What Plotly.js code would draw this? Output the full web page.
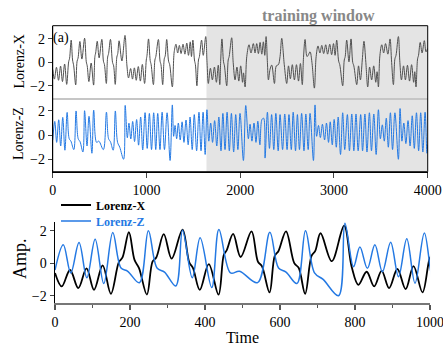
<!DOCTYPE html>
<html><head><meta charset="utf-8">
<script src="https://cdn.plot.ly/plotly-3.0.1.min.js"></script>
<style>html,body{margin:0;padding:0;background:#fff}#c{width:443px;height:350px}</style>
</head><body><div id="c"></div>
<script>
// Lorenz-X: local extrema / shape points (time, value)
const xTime = [0,18,40,62,84,104,127,149,170,180,197,212,224,245,260,270,290,311,340,358,368,386,410,436,450,458,475,495,524,541,552,572,586,596,616,638,650,667,684,694,708,738,771,791,809,831,851,871,891,913,935,956,980,998,1006,1022,1040,1050,1074,1090,1100,1127,1145,1155,1173,1190,1200,1216,1236,1248,1276,1296,1315,1333,1351,1369,1390,1410,1430,1448,1467,1480,1495,1512,1522,1538,1555,1565,1588,1606,1632,1646,1660,1682,1703,1725,1746,1766,1782,1792,1805,1822,1832,1856,1872,1882,1909,1925,1945,1965,1985,2005,2025,2035,2052,2070,2094,2115,2140,2158,2176,2194,2212,2230,2247,2262,2276,2290,2301,2318,2336,2365,2385,2407,2425,2443,2470,2496,2515,2535,2556,2578,2600,2622,2642,2662,2675,2692,2712,2725,2745,2765,2791,2810,2830,2850,2870,2890,2912,2932,2955,2975,2995,3012,3029,3050,3062,3093,3110,3120,3136,3160,3182,3200,3212,3243,3262,3282,3302,3320,3340,3360,3380,3402,3424,3446,3460,3474,3490,3510,3530,3550,3575,3598,3615,3634,3650,3662,3687,3703,3720,3742,3762,3784,3806,3828,3850,3862,3875,3892,3902,3920,3940,3964,3982,4000];
const xVal  = [-0.6,-1.43,-0.42,-1.53,-0.32,-1.64,-0.14,-1.88,0.05,0.35,1.9,0.2,-0.3,-1.93,0.1,0.35,1.78,0.28,2.06,0.05,-0.3,-1.64,-0.06,-1.94,0.5,0.8,1.8,0.38,1.96,0.1,-0.2,-1.8,0.45,0.75,1.96,0.0,-0.3,-1.88,0.45,0.75,1.84,0.12,2.3,-0.22,-1.33,-0.53,-1.43,-0.47,-1.53,-0.36,-1.6,-0.18,-1.8,0.2,0.6,2.0,0.15,-0.2,-1.9,0.2,0.5,1.95,0.1,-0.2,-1.9,0.3,0.55,1.95,0.1,-0.2,-2.1,0.9,1.55,0.8,1.45,0.75,1.55,0.7,1.65,0.6,1.75,0.5,1.9,0.2,-0.2,-2.0,0.2,0.5,1.9,0.6,2.2,0.0,-1.8,-0.5,-1.5,-0.4,-1.7,-0.25,-1.9,0.2,2.0,0.05,-0.3,-2.0,0.2,0.5,2.1,0.0,-1.5,-0.4,-1.6,-0.3,-1.7,-0.9,-2.1,0.5,1.5,0.8,1.6,0.8,1.6,0.75,1.7,0.7,1.75,0.6,2.2,0.0,-1.5,-0.6,-0.23,-1.8,-0.3,-0.2,0.5,2.05,-0.2,-1.8,-0.3,-1.4,-0.2,-1.5,-0.2,-1.6,-0.1,-1.9,0.4,1.95,0.5,0.6,0.9,0.0,-2.2,0.5,1.4,0.8,1.45,0.75,1.5,0.7,1.55,0.65,1.6,0.6,1.9,0.1,-0.2,-2.0,0.2,0.5,1.9,0.05,2.0,0.0,-0.3,-1.9,-0.3,-1.5,0.2,1.8,0.0,-2.1,-0.4,-1.5,-0.3,-1.7,-0.8,-2.1,0.6,1.5,0.8,1.6,0.7,2.0,0.0,-1.9,0.3,0.6,2.2,0.0,-1.5,-0.3,-1.5,-0.25,-1.6,-0.2,-1.7,-0.8,-2.1,0.3,0.6,1.7,0.8,1.85,0.9,1.2];

// Lorenz-Z: local extrema / shape points (time, value)
const zTime = [0,22,42,64,85,107,130,154,176,194,225,249,272,292,322,340,366,387,418,437,468,492,540,573,596,616,645,668,692,715,756,773,796,813,833,853,873,895,916,938,960,985,1008,1031,1054,1077,1099,1120,1144,1167,1192,1220,1252,1276,1290,1305,1322,1340,1360,1380,1400,1422,1445,1465,1488,1510,1535,1560,1582,1604,1626,1645,1665,1685,1705,1727,1750,1772,1795,1815,1838,1860,1884,1906,1930,1952,1975,1998,2034,2059,2087,2105,2125,2147,2168,2188,2210,2232,2250,2265,2290,2312,2335,2358,2380,2405,2425,2452,2475,2500,2520,2545,2565,2590,2610,2632,2655,2680,2700,2725,2745,2781,2798,2815,2835,2855,2877,2900,2920,2942,2960,2982,3002,3025,3045,3070,3093,3115,3143,3165,3190,3212,3235,3258,3285,3305,3330,3352,3378,3400,3425,3450,3474,3495,3516,3537,3558,3580,3602,3625,3650,3687,3705,3725,3745,3767,3790,3812,3835,3857,3880,3903,3925,3948,3972,3992,4000];
const zVal  = [-0.42,1.13,-0.6,1.27,-0.9,1.47,-1.25,1.88,-0.3,-0.5,-1.2,2.0,-0.3,-0.55,-1.4,2.02,-0.9,1.56,-1.5,2.07,-0.6,-0.5,-1.2,1.9,-0.3,-0.55,-1.25,2.0,-0.6,-1.0,-2.0,2.46,-0.22,0.99,-0.32,1.13,-0.53,1.29,-0.83,1.5,-1.23,1.86,-1.1,1.8,-1.2,1.85,-1.2,1.8,-1.2,1.9,-1.2,1.85,-2.1,2.5,-0.1,0.8,-0.3,1.0,-0.4,1.1,-0.6,1.25,-0.8,1.5,-1.2,1.7,-1.3,1.9,-1.3,1.9,-1.6,2.1,-0.5,1.0,-0.6,1.2,-0.9,1.5,-1.3,1.8,-1.2,1.9,-1.3,1.8,-1.4,1.7,-1.2,1.8,-2.1,2.45,-0.3,0.9,-0.5,1.0,-0.6,1.15,-0.8,1.3,1.4,-1.9,1.9,-1.1,1.7,-1.2,1.8,-1.3,1.7,-1.2,1.75,-1.2,1.7,-1.2,1.9,-1.3,1.7,-1.2,1.8,-1.3,1.75,-1.2,1.8,-2.1,2.5,-0.1,0.8,-0.2,0.9,-0.4,1.0,-0.6,1.1,-0.8,1.3,-1.0,1.5,-1.6,1.85,-1.2,1.7,-1.3,1.75,-1.3,1.75,-1.3,1.7,-1.3,1.75,-1.4,1.85,-1.3,1.75,-1.6,2.1,-0.3,0.85,-0.5,1.4,-1.0,1.85,-1.2,1.85,-2.0,2.2,-0.5,1.0,-0.7,1.2,-0.9,1.6,-1.1,1.85,-1.3,1.85,-1.4,1.9,-1.5,-0.8];

const topTicks = [0,1000,2000,3000,4000];
const botTicks = [0,200,400,600,800,1000];
const botMinor = [100,300,500,700,900];
const yTicks = [-2,0,2];
const trainStart = 1640;

const serif = 'Liberation Serif, Times New Roman, serif';
const blue = '#2479e3';

const traces = [
  {x:xTime,y:xVal,xaxis:'x',yaxis:'y',mode:'lines',line:{color:'#505050',width:1,shape:'spline',smoothing:1},showlegend:false,hoverinfo:'skip'},
  {x:zTime,y:zVal,xaxis:'x2',yaxis:'y2',mode:'lines',line:{color:blue,width:1,shape:'spline',smoothing:1},showlegend:false,hoverinfo:'skip'},
  {x:xTime,y:xVal,xaxis:'x3',yaxis:'y3',mode:'lines',name:'<b>Lorenz-X</b>',legend:'legend',line:{color:'#000',width:1.8,shape:'spline',smoothing:1},hoverinfo:'skip'},
  {x:zTime,y:zVal,xaxis:'x3',yaxis:'y3',mode:'lines',name:'<b><span style="color:'+blue+'">Lorenz-Z</span></b>',legend:'legend2',line:{color:blue,width:1.5,shape:'spline',smoothing:1},hoverinfo:'skip'}
];

const tf = {family:serif,size:14,color:'#000'};
const xd = [0.119,0.9655];
const y1d = [0.7171,0.9266], y2d=[0.5094,0.7171], y3d=[0.1343,0.3666];
const legStyle = (yy) => ({x:56/443,y:yy,xanchor:'left',yanchor:'middle',bgcolor:'rgba(0,0,0,0)',font:{family:serif,size:12,color:'#000'},itemwidth:30});
const ytitle = (txt,px,py,sz) => ({text:txt,xref:'paper',yref:'paper',x:px/443,y:1-py/350,textangle:-90,showarrow:false,xanchor:'center',yanchor:'middle',font:{family:serif,size:sz,color:'#000'}});

const layout = {
  width:443,height:350,margin:{l:0,r:0,t:0,b:0},
  paper_bgcolor:'#fff',plot_bgcolor:'rgba(0,0,0,0)',
  font:{family:serif,size:14,color:'#000'},
  xaxis:{domain:xd,anchor:'y',range:[0,4000],showticklabels:false,ticks:'',showline:false,showgrid:false,zeroline:false},
  yaxis:{domain:y1d,anchor:'x',range:[-3.13,3.13],tickvals:yTicks,ticks:'outside',ticklen:4,tickwidth:1,showline:true,linecolor:'#000',linewidth:1,showgrid:false,zeroline:false,tickfont:tf},
  xaxis2:{domain:xd,anchor:'y2',range:[0,4000],tickvals:topTicks,ticks:'outside',ticklen:5,tickwidth:1,showline:true,linecolor:'#000',linewidth:1.5,showgrid:false,zeroline:false,tickfont:tf,ticklabeloverflow:'allow'},
  yaxis2:{domain:y2d,anchor:'x2',range:[-3.03,2.99],tickvals:yTicks,ticks:'outside',ticklen:4,tickwidth:1,showline:true,linecolor:'#000',linewidth:1,showgrid:false,zeroline:false,tickfont:tf},
  xaxis3:{domain:[0.1242,0.9707],anchor:'y3',range:[0,1000],tickvals:botTicks,ticks:'outside',ticklen:5,tickwidth:1.5,tickcolor:'#555',showline:true,linecolor:'#777',linewidth:2.5,showgrid:false,zeroline:false,tickfont:tf,ticklabeloverflow:'allow',
    minor:{tickvals:botMinor,ticks:'outside',ticklen:3,tickwidth:1.5,tickcolor:'#555'},
    title:{text:'Time',font:{family:serif,size:16},standoff:3}},
  yaxis3:{domain:y3d,anchor:'x3',range:[-2.45,2.55],tickvals:yTicks,ticks:'outside',ticklen:4,tickwidth:1,showline:true,linecolor:'#000',linewidth:1.5,showgrid:false,zeroline:false,tickfont:tf},
  shapes:[
    {type:'rect',xref:'x2',yref:'paper',x0:trainStart,x1:4000,y0:y2d[0],y1:y1d[1],fillcolor:'#e4e4e4',line:{width:0},layer:'below'},
    {type:'line',xref:'paper',yref:'paper',x0:xd[0],x1:xd[1],y0:y1d[0],y1:y1d[0],line:{color:'#c6c6c6',width:2},layer:'below'},
    {type:'rect',xref:'paper',yref:'paper',x0:xd[0],x1:xd[1],y0:y2d[0],y1:y1d[1],line:{color:'#000',width:1},fillcolor:'rgba(0,0,0,0)',layer:'above'}
  ],
  annotations:[
    {text:'<b>training window</b>',xref:'paper',yref:'paper',x:318.5/443,y:1-16/350,showarrow:false,font:{family:serif,size:16,color:'#888'},xanchor:'center',yanchor:'middle'},
    {text:'(a)',xref:'paper',yref:'paper',x:61.5/443,y:1-38.5/350,showarrow:false,font:{family:serif,size:14,color:'#000'},xanchor:'center',yanchor:'middle'},
    ytitle('Lorenz-X',19,61.5,14),
    ytitle('Lorenz-Z',19,134,14),
    ytitle('Amp.',20,259,18)
  ],
  legend:legStyle(1-205/350),
  legend2:legStyle(1-221/350)
};
Plotly.newPlot('c',traces,layout,{staticPlot:true,displayModeBar:false});
</script></body></html>
